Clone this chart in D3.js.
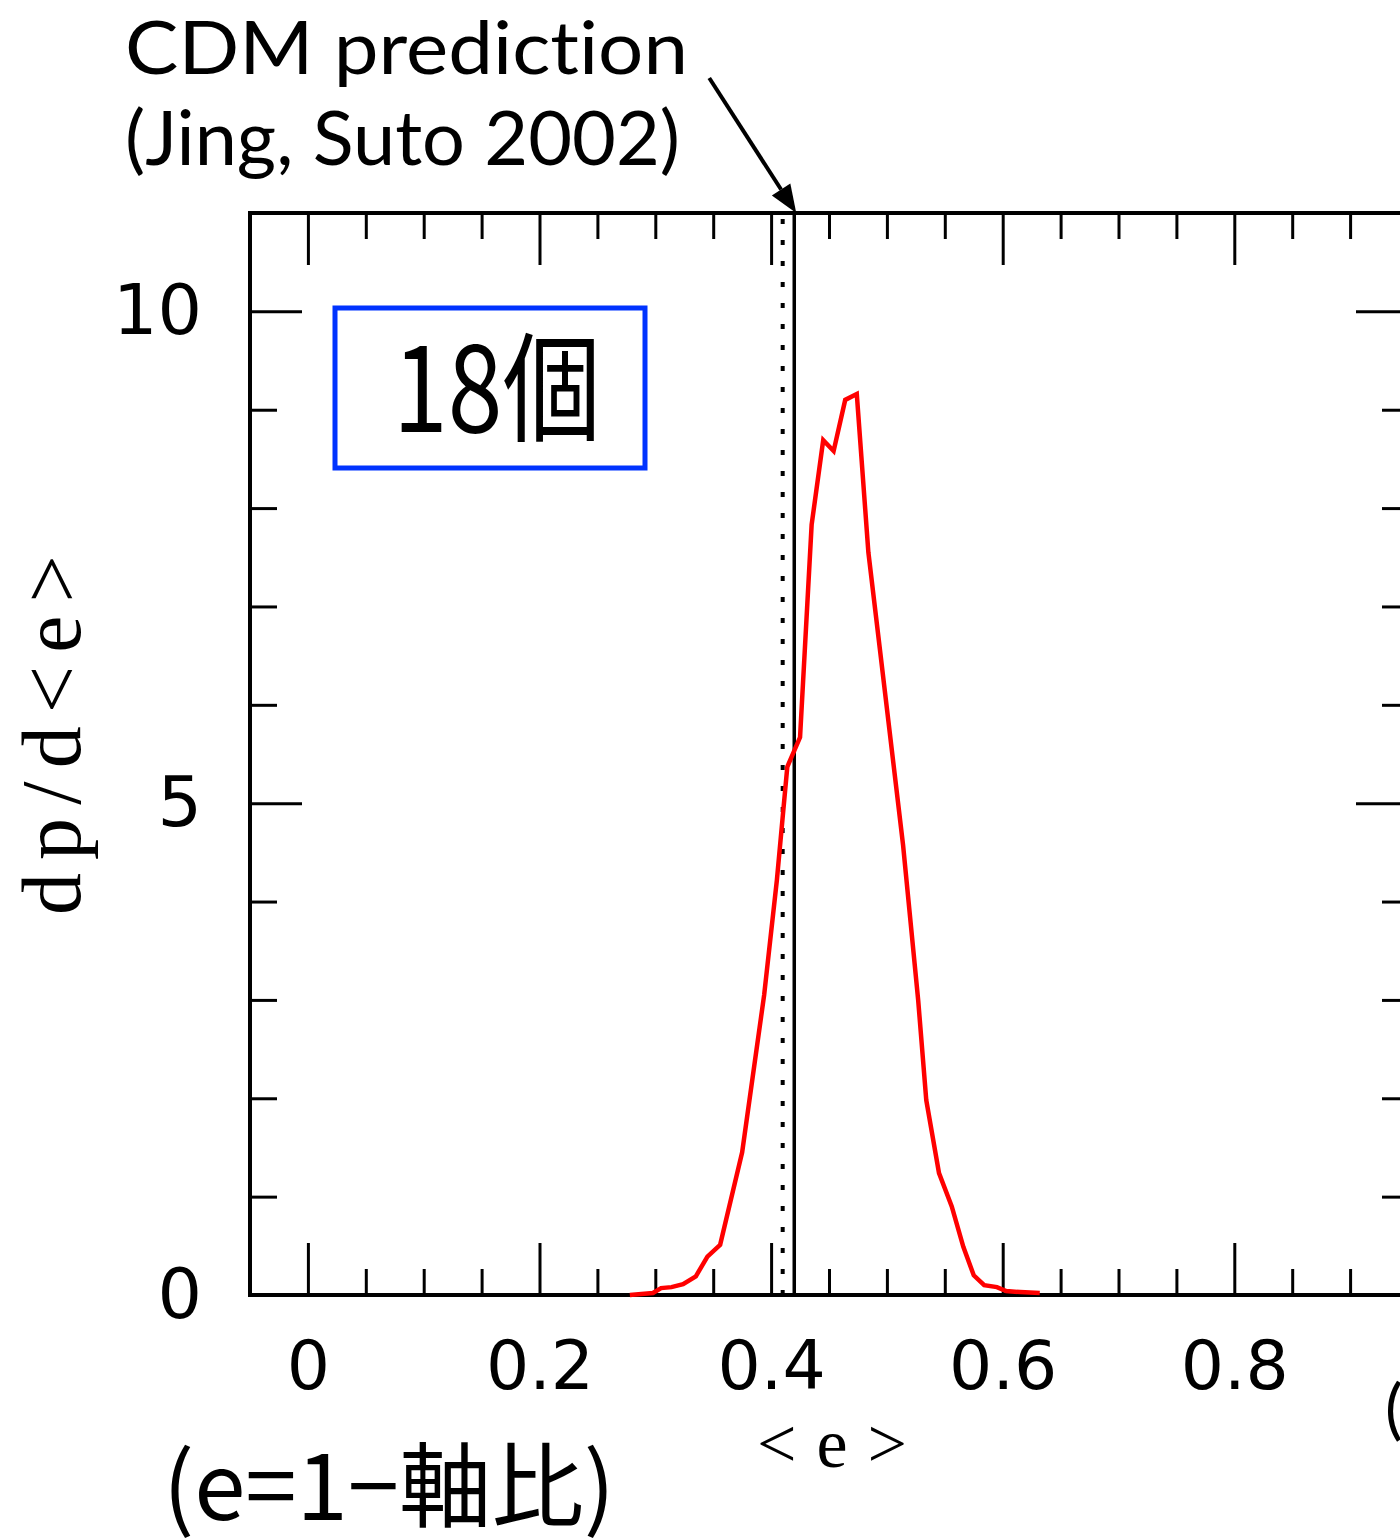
<!DOCTYPE html>
<html>
<head>
<meta charset="utf-8">
<script src="https://cdn.jsdelivr.net/npm/d3@7"></script>
<style>
  html, body { margin: 0; padding: 0; background: #fff; }
  svg { display: block; }
  text { font-variant-ligatures: none; font-feature-settings: "liga" 0, "clig" 0; }
</style>
</head>
<body>
<svg id="chart" width="1400" height="1540"></svg>
<script>
// ---- data ----
const curveX = [0.278, 0.298, 0.305, 0.314, 0.324, 0.335, 0.345, 0.356, 0.375, 0.394, 0.405, 0.414, 0.425, 0.435, 0.445, 0.454, 0.464, 0.474, 0.484, 0.494, 0.514, 0.527, 0.534, 0.545, 0.556, 0.566, 0.575, 0.584, 0.595, 0.603, 0.615, 0.632];
const curveY = [0.00, 0.02, 0.07, 0.08, 0.11, 0.19, 0.39, 0.51, 1.45, 3.05, 4.22, 5.37, 5.67, 7.83, 8.69, 8.58, 9.10, 9.16, 7.55, 6.56, 4.57, 3.00, 1.98, 1.24, 0.90, 0.49, 0.20, 0.10, 0.08, 0.04, 0.03, 0.02];
const cdmValues = [0.41, 0.42];           // dotted, solid
const xMajorTicks = [0, 0.2, 0.4, 0.6, 0.8];
const xMajorLabels = ["0", "0.2", "0.4", "0.6", "0.8"];
const xMinorTicks = [0.05, 0.1, 0.15, 0.25, 0.3, 0.35, 0.45, 0.5, 0.55, 0.65, 0.7, 0.75, 0.85, 0.9];
const yMajorTicks = [0, 5, 10];
const yMajorLabels = ["0", "5", "10"];
const yMinorTicks = [1, 2, 3, 4, 6, 7, 8, 9];
const xDomain = [-0.05, 0.95];
const yDomain = [0, 11];

// ---- layout ----
const svg = d3.select("#chart");
const L = 250, R = 1408, T = 213, B = 1295;
const x = d3.scaleLinear().domain(xDomain).range([L, R]);
const y = d3.scaleLinear().domain(yDomain).range([B, T]);

const tickFont = "'DejaVu Sans ExtraLight', 'DejaVu Sans', sans-serif";
const serifFont = "'Liberation Serif', 'DejaVu Serif', serif";
const sansFont = "Lato, 'Noto Sans', sans-serif";
const cjkFont = "'Noto Sans CJK JP', 'Noto Sans', sans-serif";

function styleAxis(g, sw) {
  g.select(".domain").remove();
  g.selectAll(".tick line").attr("stroke", "#000").attr("stroke-width", sw);
}

// bottom axis: minor + major ticks pointing inward
svg.append("g").attr("transform", `translate(0,${B})`)
  .call(d3.axisBottom(x).tickValues(xMinorTicks).tickSize(-26).tickFormat(""))
  .call(g => styleAxis(g, 3));
const xb = svg.append("g").attr("transform", `translate(0,${B})`)
  .call(d3.axisBottom(x).tickValues(xMajorTicks).tickSize(-52).tickPadding(46)
        .tickFormat((d, i) => xMajorLabels[i]))
  .call(g => styleAxis(g, 3));
xb.selectAll(".tick text")
  .attr("font-family", tickFont).attr("font-size", 68).attr("fill", "#000")
  .attr("dy", "0.71em");

// top axis
svg.append("g").attr("transform", `translate(0,${T})`)
  .call(d3.axisTop(x).tickValues(xMinorTicks).tickSize(-26).tickFormat(""))
  .call(g => styleAxis(g, 3));
svg.append("g").attr("transform", `translate(0,${T})`)
  .call(d3.axisTop(x).tickValues(xMajorTicks).tickSize(-52).tickFormat(""))
  .call(g => styleAxis(g, 3));

// left axis
svg.append("g").attr("transform", `translate(${L},0)`)
  .call(d3.axisLeft(y).tickValues(yMinorTicks).tickSize(-27).tickFormat(""))
  .call(g => styleAxis(g, 3));
const yl = svg.append("g").attr("transform", `translate(${L},0)`)
  .call(d3.axisLeft(y).tickValues(yMajorTicks).tickSize(-52).tickPadding(48)
        .tickFormat((d, i) => yMajorLabels[i]))
  .call(g => styleAxis(g, 3));
yl.selectAll(".tick text")
  .attr("font-family", tickFont).attr("font-size", 70).attr("fill", "#000");

// right axis
svg.append("g").attr("transform", `translate(${R},0)`)
  .call(d3.axisRight(y).tickValues(yMinorTicks).tickSize(-26).tickFormat(""))
  .call(g => styleAxis(g, 3));
svg.append("g").attr("transform", `translate(${R},0)`)
  .call(d3.axisRight(y).tickValues(yMajorTicks).tickSize(-52).tickFormat(""))
  .call(g => styleAxis(g, 3));

// frame
svg.append("rect")
  .attr("x", L).attr("y", T).attr("width", R - L).attr("height", B - T)
  .attr("fill", "none").attr("stroke", "#000").attr("stroke-width", 4);

// CDM prediction lines
svg.selectAll("line.cdm").data(cdmValues).join("line")
  .attr("class", "cdm")
  .attr("x1", d => x(d)).attr("x2", d => x(d))
  .attr("y1", y(yDomain[0])).attr("y2", y(yDomain[1]))
  .attr("stroke", "#000")
  .attr("stroke-width", (d, i) => i === 0 ? 4 : 3.5)
  .attr("stroke-dasharray", (d, i) => i === 0 ? "5,16" : null);

// red curve
const pts = curveX.map((v, i) => [v, curveY[i]]);
svg.append("path")
  .datum(pts)
  .attr("fill", "none").attr("stroke", "#ff0000").attr("stroke-width", 4.5)
  .attr("stroke-linejoin", "miter")
  .attr("d", d3.line().x(d => x(d[0])).y(d => y(d[1])));

// arrow pointing to solid line at top axis
const tipX = x(cdmValues[1]) + 2, tipY = y(yDomain[1]);
const startX = tipX - 87, startY = tipY - 135;
const ang = Math.atan2(tipY - startY, tipX - startX);
const headLen = 28, headW = 11;
const bx = tipX - headLen * Math.cos(ang), by = tipY - headLen * Math.sin(ang);
svg.append("line")
  .attr("x1", startX).attr("y1", startY).attr("x2", bx).attr("y2", by)
  .attr("stroke", "#000").attr("stroke-width", 4);
svg.append("path")
  .attr("d", `M${tipX},${tipY} L${bx + headW * Math.sin(ang)},${by - headW * Math.cos(ang)} L${bx - headW * Math.sin(ang)},${by + headW * Math.cos(ang)} Z`)
  .attr("fill", "#000");

// annotation text
svg.append("text").attr("x", 125).attr("y", 74)
  .attr("font-family", sansFont).attr("font-size", 74).attr("fill", "#000")
  .attr("textLength", 563).attr("lengthAdjust", "spacingAndGlyphs")
  .text("CDM prediction");
svg.append("text").attr("x", 125).attr("y", 165)
  .attr("font-family", sansFont).attr("font-size", 76).attr("fill", "#000")
  .attr("textLength", 555).attr("lengthAdjust", "spacingAndGlyphs")
  .text("(Jing, Suto 2002)");

// blue box with count
svg.append("rect")
  .attr("x", 335).attr("y", 308).attr("width", 310).attr("height", 160)
  .attr("fill", "none").attr("stroke", "#0033ff").attr("stroke-width", 5);
svg.append("text").attr("x", 393).attr("y", 432)
  .attr("font-family", cjkFont).attr("font-size", 118).attr("fill", "#000")
  .attr("textLength", 208).attr("lengthAdjust", "spacingAndGlyphs")
  .text("18個");

// axis titles
svg.append("text")
  .attr("transform", `translate(80,735) rotate(-90)`)
  .attr("text-anchor", "middle")
  .attr("font-family", serifFont).attr("font-size", 84).attr("fill", "#000")
  .attr("textLength", 360).attr("lengthAdjust", "spacing")
  .text("dp/d<e>");
svg.append("text")
  .attr("x", 832).attr("y", 1467)
  .attr("text-anchor", "middle")
  .attr("font-family", serifFont).attr("font-size", 70).attr("fill", "#000")
  .attr("textLength", 150).attr("lengthAdjust", "spacing")
  .text("<e>");
svg.append("text")
  .attr("x", 163).attr("y", 1520)
  .attr("font-family", cjkFont).attr("font-size", 92).attr("fill", "#000")
  .attr("textLength", 452).attr("lengthAdjust", "spacingAndGlyphs")
  .text("(e=1−軸比)");
svg.append("text")
  .attr("x", 1385).attr("y", 1432)
  .attr("font-family", sansFont).attr("font-size", 66).attr("fill", "#000")
  .text("(");
</script>
</body>
</html>
